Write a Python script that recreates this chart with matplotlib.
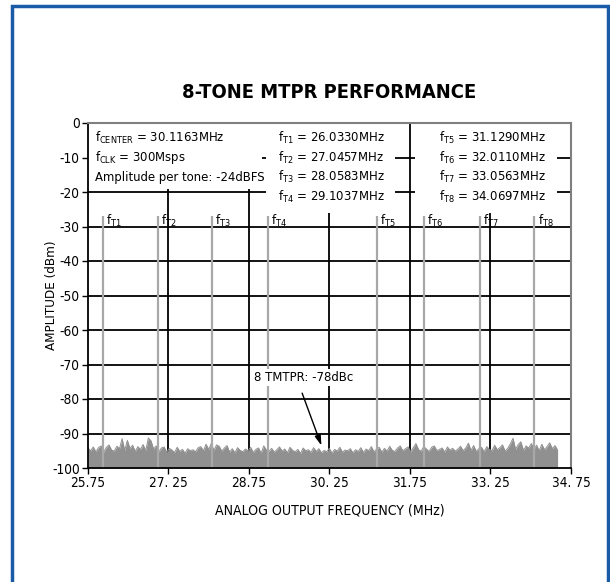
import numpy as np
import matplotlib
matplotlib.use('Agg')
import matplotlib.pyplot as plt
from matplotlib import font_manager
from matplotlib.patches import Rectangle

# tones (MHz) and their peak level
tone_freqs = [26.0330, 27.0457, 28.0583, 29.1037, 31.1290, 32.0110, 33.0563, 34.0697]
tone_names = ['T1', 'T2', 'T3', 'T4', 'T5', 'T6', 'T7', 'T8']
tone_peak = -27.0

# noise floor, 25.75 .. 34.5 MHz
noise_db = [
    -94.2, -95.0, -93.9, -95.3, -94.1, -93.6, -95.4, -94.0, -93.3, -94.8,
    -95.1, -93.7, -94.4, -91.5, -94.9, -92.0, -94.3, -93.4, -95.2, -93.8,
    -94.6, -93.2, -95.0, -91.3, -92.1, -94.5, -93.6, -95.3, -94.2, -93.9,
    -95.4, -94.3, -94.8, -95.5, -94.0, -95.2, -94.6, -95.7, -94.4, -95.0,
    -94.7, -95.3, -94.1, -93.8, -95.0, -93.1, -94.6, -92.9, -94.9, -93.3,
    -93.7, -95.1, -94.2, -93.5, -95.4, -94.4, -95.6, -94.1, -94.9, -95.3,
    -94.5, -95.0, -94.0, -95.5, -94.6, -94.2, -95.7, -93.6, -94.8, -95.2,
    -94.3, -95.4, -94.7, -93.9, -95.1, -94.5, -95.6, -94.0, -94.9, -95.3,
    -94.6, -95.8, -94.2, -95.0, -94.7, -95.5, -94.1, -95.2, -94.4, -95.6,
    -94.9, -95.3, -94.3, -95.7, -94.6, -95.1, -94.0, -95.4, -94.8, -95.0,
    -94.4, -95.6, -94.7, -95.2, -94.1, -95.5, -94.5, -95.0, -93.8, -95.3,
    -94.6, -94.0, -95.4, -94.3, -95.1, -93.7, -94.9, -95.2, -94.2, -93.6,
    -95.0, -94.4, -93.9, -95.3, -94.1, -92.9, -94.7, -95.1, -93.8, -94.5,
    -95.2, -94.0, -93.6, -95.0, -94.6, -94.2, -95.4, -93.9, -94.8, -94.3,
    -95.1, -94.5, -93.7, -95.0, -94.2, -92.8, -94.9, -93.5, -95.2, -94.4,
    -94.0, -95.3, -93.8, -94.6, -95.0, -93.4, -94.7, -94.1, -93.3, -95.1,
    -94.3, -93.0, -91.4, -94.6, -93.2, -92.4, -94.9, -93.6, -94.2, -92.9,
    -94.5, -93.4, -95.0, -93.1, -94.7, -93.8, -92.7, -94.4, -93.5, -94.8,
]
noise_start, noise_stop = 25.75, 34.5

xtick_vals = [25.75, 27.25, 28.75, 30.25, 31.75, 33.25, 34.75]
xtick_labels = ['25.75', '27. 25', '28.75', '30. 25', '31.75', '33. 25', '34. 75']
ytick_vals = [0, -10, -20, -30, -40, -50, -60, -70, -80, -90, -100]

info_left = ['f$_\\mathregular{CENTER}$ = 30.1163MHz',
             'f$_\\mathregular{CLK}$ = 300Msps',
             'Amplitude per tone: -24dBFS']

# pick a narrow sans face if one is installed
fam, stretch = 'Liberation Sans', 'normal'
found = {}
for f in font_manager.fontManager.ttflist:
    if f.style == 'normal' and f.weight in (400, 'normal', 'regular') and \
            'Mono' not in f.name and 'Serif' not in f.name:
        found.setdefault(f.stretch, f.name)
for st in ['condensed', 'semi-condensed', 'extra-condensed']:
    if st in found:
        fam, stretch = found[st], st
        break

plt.rcParams['font.family'] = [fam, 'Liberation Sans', 'DejaVu Sans']
plt.rcParams['font.stretch'] = stretch
plt.rcParams['mathtext.fontset'] = 'custom'
plt.rcParams['mathtext.rm'] = '%s:stretch=%s' % (fam, stretch)
plt.rcParams['axes.unicode_minus'] = False

fig = plt.figure(figsize=(6.1, 5.82), dpi=100)
renderer = fig.canvas.get_renderer()


def width_px(s, size, **kw):
    t = fig.text(0, 0, s, fontsize=size, **kw)
    w = t.get_window_extent(renderer).width
    t.remove()
    return w


# font sizes from the text widths of the original, a bit enlarged since
# the original face is taller than the one available here
fs = 1.1 * 10 * 118 / width_px(info_left[0], 10)
fs_tick = 1.1 * 10 * 32 / width_px('25.75', 10)
fs_lab = 1.2 * 10 * 192 / width_px('ANALOG OUTPUT FREQUENCY (MHz)', 10)
fs_title = 1.12 * 15 * 264 / width_px('8-TONE MTPR PERFORMANCE', 15, fontweight='bold')

noise_freq = np.linspace(noise_start, noise_stop, len(noise_db))

ax = fig.add_axes([88 / 610, 1 - 468 / 582, 483 / 610, 345 / 582])
ax.set_xlim(25.75, 34.75)
ax.set_ylim(-100, 0)

# grid, drawn by hand so the text boxes can hide parts of it
for xv in xtick_vals[1:-1]:
    ax.axvline(xv, color='black', lw=1.3, zorder=1)
for yv in ytick_vals[1:-1]:
    ax.axhline(yv, color='black', lw=1.3, zorder=1)

# white areas behind the text blocks
for x0, x1, y0 in [(25.75, 28.99, -19), (29.07, 31.47, -26), (31.84, 34.49, -26)]:
    ax.add_patch(Rectangle((x0, y0), x1 - x0, -y0, facecolor='white',
                           edgecolor='none', zorder=2))

# noise floor
ax.fill_between(noise_freq, -100, noise_db, color='#909090', lw=0, zorder=3)
ax.plot(noise_freq, noise_db, color='#909090', lw=0.7, zorder=3)

# tones
ax.vlines(tone_freqs, -100, tone_peak, color='#a8a8a8', lw=1.6, zorder=4)
for f, name in zip(tone_freqs, tone_names):
    ax.text(f + 0.06, -28.3, 'f$_\\mathregular{%s}$' % name, fontsize=fs,
            ha='left', va='center', zorder=5)

# info text
for i, line in enumerate(info_left):
    ax.text(25.88, -4.3 - 5.7 * i, line, fontsize=fs, ha='left', va='center', zorder=5)
for i in range(4):
    ax.text(29.29, -4.3 - 5.7 * i,
            'f$_\\mathregular{%s}$ = %.4fMHz' % (tone_names[i], tone_freqs[i]),
            fontsize=fs, ha='left', va='center', zorder=5)
    ax.text(32.29, -4.3 - 5.7 * i,
            'f$_\\mathregular{%s}$ = %.4fMHz' % (tone_names[i + 4], tone_freqs[i + 4]),
            fontsize=fs, ha='left', va='center', zorder=5)

# MTPR annotation
ax.text(29.775, -73.8, '8 TMTPR: -78dBc', fontsize=fs, ha='center', va='center',
        zorder=6, bbox=dict(facecolor='white', edgecolor='none', pad=1.5))
ax.annotate('', xy=(30.10, -93.5), xytext=(29.74, -78.3), zorder=6,
            arrowprops=dict(arrowstyle='-|>,head_length=0.6,head_width=0.18',
                            color='black', lw=1, shrinkA=0, shrinkB=0))

ax.set_xticks(xtick_vals, labels=xtick_labels)
ax.set_yticks(ytick_vals)
ax.tick_params(direction='out', length=4, width=1, labelsize=fs_tick, pad=2,
               color='black')
for side in ['left', 'bottom']:
    ax.spines[side].set_color('black')
    ax.spines[side].set_linewidth(1.3)
for side in ['top', 'right']:
    ax.spines[side].set_color('#7f7f7f')
    ax.spines[side].set_linewidth(1.5)
for sp in ax.spines.values():
    sp.set_zorder(7)

ax.set_xlabel('ANALOG OUTPUT FREQUENCY (MHz)', fontsize=fs_lab)
ax.xaxis.set_label_coords(0.5, -36 / 345)
ax.set_ylabel('AMPLITUDE (dBm)', fontsize=fs_lab * 0.95)
ax.yaxis.set_label_coords(-30 / 483, 0.5)
fig.text(329 / 610, 1 - 92 / 582, '8-TONE MTPR PERFORMANCE', fontsize=fs_title,
         fontweight='bold', ha='center', va='center')

# blue frame around the whole graphic
fig.patches.append(Rectangle((12 / 610, -0.05), 596 / 610, 1.05 - 6 / 582,
                             transform=fig.transFigure, fill=False,
                             edgecolor='#1a5aa6', lw=2.5))

fig.savefig('out.png', dpi=100)
